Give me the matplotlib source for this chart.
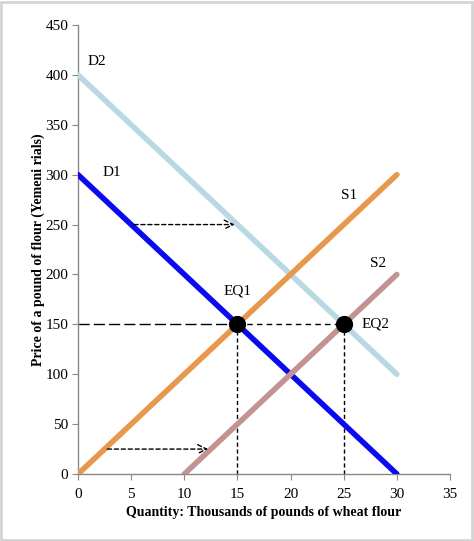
import numpy as np
import matplotlib.pyplot as plt
from matplotlib.patches import Rectangle

# curve end points (quantity, price)
d1_q = [0, 30]
d1_p = [300, 0]
d2_q = [0, 30]
d2_p = [400, 100]
s1_q = [0, 30]
s1_p = [0, 300]
s2_q = [10, 30]
s2_p = [0, 200]
eq_q = [15, 25]
eq_p = [150, 150]
eq_names = ['EQ1', 'EQ2']

plt.rcParams['font.family'] = ['Liberation Serif', 'DejaVu Serif']

fig = plt.figure(figsize=(4.74, 5.41), dpi=100)
ax = fig.add_axes([0.1646, 0.1238, 0.7848, 0.830])

ax.plot(d2_q, d2_p, color='#b8d8e4', lw=4, solid_capstyle='round', zorder=3)
ax.plot(d1_q, d1_p, color='#0a0af0', lw=4, solid_capstyle='round', zorder=3)
ax.plot(s1_q, s1_p, color='#e8984c', lw=4, solid_capstyle='round', zorder=3)
ax.plot(s2_q, s2_p, color='#c39292', lw=4, solid_capstyle='round', zorder=3)

# reference lines at the equilibria
ax.plot([0, eq_q[0]], [eq_p[0], eq_p[0]], color='black', lw=1.0, dashes=(8, 3), zorder=2)
ax.plot([eq_q[0], eq_q[1]], [eq_p[0], eq_p[1]], color='black', lw=1.0, dashes=(4, 3), zorder=2)
for q, p in zip(eq_q, eq_p):
    ax.plot([q, q], [0, p], color='black', lw=1.0, dashes=(3, 2), zorder=2)

ax.scatter(eq_q, eq_p, s=130, color='black', zorder=5)

# shift arrows
arrow = dict(arrowstyle='->', color='black', lw=1.0, linestyle=(0, (3, 2)), mutation_scale=16)
ax.annotate('', xy=(15, 250), xytext=(5, 250), arrowprops=arrow, zorder=4)
ax.annotate('', xy=(12.5, 25), xytext=(2.5, 25), arrowprops=arrow, zorder=4)

fs = 11
ax.text(0.85, 413, 'D2', fontsize=fs, va='center')
ax.text(2.35, 302, 'D1', fontsize=fs, va='center')
ax.text(24.7, 279, 'S1', fontsize=fs, va='center')
ax.text(27.5, 211, 'S2', fontsize=fs, va='center')
ax.text(15, 183, eq_names[0], fontsize=fs, va='center', ha='center')
ax.text(26.7, 150, eq_names[1], fontsize=fs, va='center')

ax.set_xlim(0, 35)
ax.set_ylim(0, 450)
ax.set_xticks(np.arange(0, 36, 5))
ax.set_yticks(np.arange(0, 451, 50))
for side in ['top', 'right']:
    ax.spines[side].set_visible(False)
for side in ['left', 'bottom']:
    ax.spines[side].set_color('#888888')
    ax.spines[side].set_linewidth(1.0)
ax.tick_params(direction='out', length=4, color='#888888', labelsize=fs, pad=3)
ax.tick_params(axis='x', pad=6)

ax.set_xlabel('Quantity: Thousands of pounds of wheat flour', fontsize=10, fontweight='bold', labelpad=4)
ax.set_ylabel('Price of a pound of flour (Yemeni rials)', fontsize=10, fontweight='bold', labelpad=0)

fig.patches.append(Rectangle((0.002, 0.002), 0.994, 0.994, transform=fig.transFigure,
                             fill=False, edgecolor='#d4d4d4', lw=2))

fig.savefig('out.png', dpi=100)
